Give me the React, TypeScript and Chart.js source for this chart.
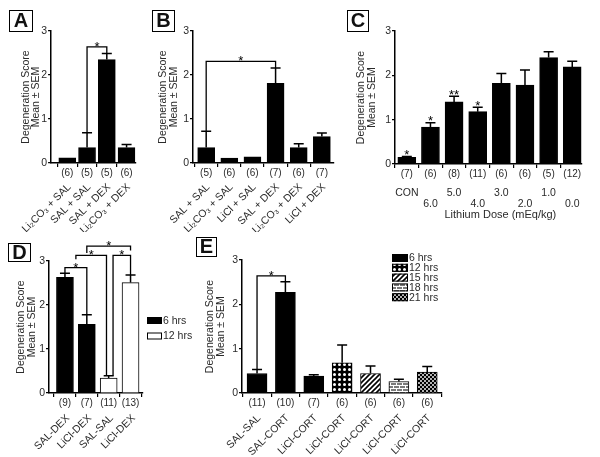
import React, { useEffect, useRef } from 'react';
import { Chart, registerables } from 'chart.js';

Chart.register(...registerables);

const FONT = '"Liberation Sans", Arial, Helvetica, sans-serif';
const INK = '#2a2a2a';
Chart.defaults.font.family = FONT;

// ---------- Panel A ----------
const catsA = ['Li₂CO₃ + SAL', 'SAL + SAL', 'SAL + DEX', 'Li₂CO₃ + DEX'];
const meanA = [0.12, 0.35, 2.35, 0.35];
const semA = [0, 0.34, 0.14, 0.07];
const nA = ['(6)', '(5)', '(5)', '(6)'];

// ---------- Panel B ----------
const catsB = ['SAL + SAL', 'Li₂CO₃ + SAL', 'LiCl + SAL', 'SAL + DEX', 'Li₂CO₃ + DEX', 'LiCl + DEX'];
const meanB = [0.35, 0.11, 0.14, 1.81, 0.35, 0.6];
const semB = [0.37, 0, 0, 0.35, 0.09, 0.08];
const nB = ['(5)', '(6)', '(6)', '(7)', '(6)', '(7)'];

// ---------- Panel C ----------
const doseC = ['CON', '6.0', '5.0', '4.0', '3.0', '2.0', '1.0', '0.0'];
const meanC = [0.15, 0.83, 1.4, 1.18, 1.82, 1.78, 2.4, 2.19];
const semC = [0.02, 0.1, 0.13, 0.1, 0.22, 0.34, 0.13, 0.13];
const nC = ['(7)', '(6)', '(8)', '(11)', '(6)', '(6)', '(5)', '(12)'];
const sigC = ['*', '*', '**', '*', '', '', '', ''];

// ---------- Panel D ----------
const catsD = ['SAL-DEX', 'LiCl-DEX', 'SAL-SAL', 'LiCl-DEX'];
const meanD = [2.63, 1.56, 0.34, 2.51];
const semD = [0.09, 0.22, 0.05, 0.17];
const nD = ['(9)', '(7)', '(11)', '(13)'];
const timeD = ['6 hrs', '6 hrs', '12 hrs', '12 hrs'];
const legendD = ['6 hrs', '12 hrs'];

// ---------- Panel E ----------
const catsE = ['SAL-SAL', 'SAL-CORT', 'LiCl-CORT', 'LiCl-CORT', 'LiCl-CORT', 'LiCl-CORT', 'LiCl-CORT'];
const meanE = [0.44, 2.27, 0.38, 0.68, 0.44, 0.26, 0.47];
const semE = [0.09, 0.24, 0.03, 0.4, 0.17, 0.05, 0.13];
const nE = ['(11)', '(10)', '(7)', '(6)', '(6)', '(6)', '(6)'];
const timeE = ['6 hrs', '6 hrs', '6 hrs', '12 hrs', '15 hrs', '18 hrs', '21 hrs'];
const legendE = ['6 hrs', '12 hrs', '15 hrs', '18 hrs', '21 hrs'];

// significance brackets: [from bar, to bar, height, left leg end, right leg end, mark]
type Bracket = [number, number, number, number, number, string];
const bracketsA: Bracket[] = [[2, 3, 2.64, 0.69, 2.49, '*']];
const bracketsB: Bracket[] = [[1, 4, 2.31, 0.72, 2.16, '*']];
const bracketsD: Bracket[] = [
  [1, 2, 2.85, 2.72, 1.78, '*'],
  [1.5, 2.9, 3.13, 3.04, 0.39, '*'],
  [3.2, 4, 3.13, 0.39, 2.68, '*'],
  [2, 4, 3.34, 3.18, 3.24, '*'],
];
const bracketsE: Bracket[] = [[1, 2, 2.64, 0.53, 2.51, '*']];

// fill styles per group
const styleD: Record<string, string> = { '6 hrs': 'solid', '12 hrs': 'open' };
const styleE: Record<string, string> = {
  '6 hrs': 'solid',
  '12 hrs': 'dots',
  '15 hrs': 'diag',
  '18 hrs': 'brick',
  '21 hrs': 'dots2',
};

function makeFill(kind: string): any {
  if (kind === 'solid') return '#000';
  if (kind === 'open') return '#fff';
  const c = document.createElement('canvas');
  const g = c.getContext('2d')!;
  if (kind === 'dots') {
    c.width = 5; c.height = 5;
    g.fillStyle = '#000'; g.fillRect(0, 0, 5, 5);
    g.fillStyle = '#fff'; g.beginPath(); g.arc(2.5, 2.5, 1.5, 0, Math.PI * 2); g.fill();
  } else if (kind === 'dots2') {
    c.width = 4; c.height = 4;
    g.fillStyle = '#000'; g.fillRect(0, 0, 4, 4);
    g.fillStyle = '#fff';
    g.beginPath(); g.arc(1, 1, 0.95, 0, Math.PI * 2); g.fill();
    g.beginPath(); g.arc(3, 3, 0.95, 0, Math.PI * 2); g.fill();
  } else if (kind === 'diag') {
    c.width = 5; c.height = 5;
    g.fillStyle = '#fff'; g.fillRect(0, 0, 5, 5);
    g.strokeStyle = '#000'; g.lineWidth = 1.6;
    g.beginPath();
    g.moveTo(-1, 6); g.lineTo(6, -1);
    g.moveTo(-1, 1); g.lineTo(1, -1);
    g.moveTo(4, 6); g.lineTo(6, 4);
    g.stroke();
  } else if (kind === 'brick') {
    c.width = 6; c.height = 6;
    g.fillStyle = '#7a7a7a'; g.fillRect(0, 0, 6, 6);
    g.fillStyle = '#fff';
    g.fillRect(0, 0, 6, 1); g.fillRect(0, 3, 6, 1);
    g.fillRect(0, 1, 1, 2); g.fillRect(3, 4, 1, 2);
  }
  return g.createPattern(c, 'repeat');
}

interface LegendSpec {
  labels: string[];
  kinds: string[];
  x: number; y: number; step: number; w: number; h: number; font: number;
}

interface PanelSpec {
  letter: string;
  letterBox: [number, number, number, number];
  box: [number, number, number, number];
  area: [number, number, number, number];
  xRange: [number, number];
  barWidth: number;
  tickLabels: (string | string[])[];
  rotation: number;
  tickPad: number;
  tickShift: number;
  tickLineHeight: number;
  means: number[];
  sems: number[];
  ns: string[];
  kinds: string[];
  brackets: Bracket[];
  marks?: string[];
  titlePad: number;
  xTitle?: string;
  xTitleShift?: number;
  xTitleY?: number;
  legend?: LegendSpec;
}

const panels: PanelSpec[] = [
  {
    letter: 'A', letterBox: [9, 10, 24, 22],
    box: [0, 0, 150, 232], area: [49, 143, 31, 163], xRange: [0.18, 4.45], barWidth: 17,
    tickLabels: catsA, rotation: 45, tickPad: 14, tickShift: 2, tickLineHeight: 1.2,
    means: meanA, sems: semA, ns: nA, kinds: catsA.map(() => 'solid'),
    brackets: bracketsA, titlePad: 18.5,
  },
  {
    letter: 'B', letterBox: [152, 10, 23, 22],
    box: [150, 0, 195, 232], area: [43, 192, 31, 163], xRange: [0.43, 6.49], barWidth: 17,
    tickLabels: catsB, rotation: 45, tickPad: 14, tickShift: 2, tickLineHeight: 1.2,
    means: meanB, sems: semB, ns: nB, kinds: catsB.map(() => 'solid'),
    brackets: bracketsB, titlePad: 8,
  },
  {
    letter: 'C', letterBox: [347, 10, 22, 22],
    box: [345, 0, 255, 232], area: [50, 246, 31, 164], xRange: [0.5, 8.4], barWidth: 18,
    tickLabels: doseC.map((d, i) => (i % 2 === 0 ? [d] : ['', d])), rotation: 0, tickPad: 20, tickShift: 0, tickLineHeight: 1.0,
    means: meanC, sems: semC, ns: nC, kinds: doseC.map(() => 'solid'),
    brackets: [], marks: sigC, titlePad: 11,
    xTitle: 'Lithium Dose (mEq/kg)', xTitleShift: 12, xTitleY: 215,
  },
  {
    letter: 'D', letterBox: [8, 243, 23, 19],
    box: [0, 232, 192, 225], area: [49, 143, 29, 161], xRange: [0.27, 4.57], barWidth: 17,
    tickLabels: catsD, rotation: 45, tickPad: 15, tickShift: 3, tickLineHeight: 1.2,
    means: meanD, sems: semD, ns: nD, kinds: timeD.map((t) => styleD[t]),
    brackets: bracketsD, titlePad: 16,
    legend: { labels: legendD, kinds: legendD.map((t) => styleD[t]), x: 147, y: 88.5, step: 15.5, w: 15, h: 7, font: 10.5 },
  },
  {
    letter: 'E', letterBox: [196, 237, 21, 20],
    box: [192, 232, 408, 225], area: [50, 250, 28, 161], xRange: [0.47, 7.52], barWidth: 20,
    tickLabels: catsE, rotation: 45, tickPad: 15, tickShift: 2, tickLineHeight: 1.2,
    means: meanE, sems: semE, ns: nE, kinds: timeE.map((t) => styleE[t]),
    brackets: bracketsE, titlePad: 13,
    legend: { labels: legendE, kinds: legendE.map((t) => styleE[t]), x: 200, y: 26, step: 9.8, w: 16, h: 8, font: 10.5 },
  },
];

function buildChart(canvas: HTMLCanvasElement, p: PanelSpec) {
  const [, , W, H] = p.box;
  const [ax0, ax1, ay0, ay1] = p.area;
  const fills = p.kinds.map(makeFill);

  const extras = {
    id: 'extras',
    afterDatasetsDraw(chart: any) {
      const ctx: CanvasRenderingContext2D = chart.ctx;
      const xs = chart.scales.x;
      const ys = chart.scales.y;
      ctx.save();
      ctx.strokeStyle = '#000';
      ctx.lineWidth = 1.5;
      const cap = 5;
      // error bars (upper)
      p.means.forEach((m, i) => {
        const s = p.sems[i];
        if (!(s > 0)) return;
        const x = xs.getPixelForValue(i + 1);
        const yT = ys.getPixelForValue(m);
        const yC = ys.getPixelForValue(m + s);
        ctx.beginPath();
        ctx.moveTo(x, yT);
        ctx.lineTo(x, yC);
        ctx.moveTo(x - cap, yC);
        ctx.lineTo(x + cap, yC);
        ctx.stroke();
      });
      // n labels
      ctx.fillStyle = INK;
      ctx.font = `10px ${FONT}`;
      ctx.textAlign = 'center';
      ctx.textBaseline = 'middle';
      p.ns.forEach((n, i) => {
        ctx.fillText(n, xs.getPixelForValue(i + 1), ys.bottom + 10);
      });
      // per-bar significance marks
      ctx.font = `13px ${FONT}`;
      ctx.textBaseline = 'alphabetic';
      ctx.fillStyle = '#000';
      (p.marks || []).forEach((mk, i) => {
        if (!mk) return;
        const x = xs.getPixelForValue(i + 1);
        const y = ys.getPixelForValue(p.means[i] + p.sems[i]);
        ctx.fillText(mk, x, y + 2.5);
      });
      // brackets
      ctx.lineWidth = 1.3;
      p.brackets.forEach(([a, b, h, la, lb, mk]) => {
        const xa = xs.getPixelForValue(a);
        const xb = xs.getPixelForValue(b);
        const yh = ys.getPixelForValue(h);
        ctx.beginPath();
        ctx.moveTo(xa, ys.getPixelForValue(la));
        ctx.lineTo(xa, yh);
        ctx.lineTo(xb, yh);
        ctx.lineTo(xb, ys.getPixelForValue(lb));
        ctx.stroke();
        ctx.fillText(mk, (xa + xb) / 2, yh + 4);
      });
      // x title
      if (p.xTitle) {
        ctx.fillStyle = INK;
        ctx.font = `11px ${FONT}`;
        ctx.textBaseline = 'middle';
        ctx.textAlign = 'center';
        ctx.fillText(p.xTitle, (xs.left + xs.right) / 2 + (p.xTitleShift || 0), (p.xTitleY || 0) - p.box[1]);
      }
      // legend
      if (p.legend) {
        const L = p.legend;
        const lf = L.kinds.map(makeFill);
        ctx.font = `${L.font}px ${FONT}`;
        ctx.textAlign = 'left';
        ctx.textBaseline = 'middle';
        L.labels.forEach((lab, i) => {
          const cy = L.y + i * L.step;
          ctx.fillStyle = lf[i];
          ctx.fillRect(L.x, cy - L.h / 2, L.w, L.h);
          ctx.lineWidth = 1;
          ctx.strokeStyle = '#000';
          ctx.strokeRect(L.x + 0.5, cy - L.h / 2 + 0.5, L.w - 1, L.h - 1);
          ctx.fillStyle = INK;
          ctx.fillText(lab, L.x + L.w + 1, cy + 0.5);
        });
      }
      ctx.restore();
    },
  };

  return new Chart(canvas, {
    type: 'bar',
    data: {
      datasets: [
        {
          data: p.means.map((m, i) => ({ x: i + 1, y: m })),
          backgroundColor: fills,
          borderColor: '#000',
          borderWidth: 1,
          barThickness: p.barWidth,
        } as any,
      ],
    },
    options: {
      responsive: false,
      animation: false,
      devicePixelRatio: 1,
      layout: { padding: { left: 0, top: ay0, right: W - ax1, bottom: 0 } },
      plugins: { legend: { display: false }, tooltip: { enabled: false } },
      scales: {
        x: {
          type: 'linear',
          bounds: 'data',
          min: p.xRange[0],
          max: p.xRange[1],
          offset: false,
          grid: { display: true, drawOnChartArea: false, drawTicks: true, tickLength: 4, color: '#000', lineWidth: 1.2 },
          border: { display: true, color: '#000', width: 1.5 },
          afterBuildTicks: (s: any) => {
            s.ticks = p.tickLabels.map((_, i) => ({ value: i + 1 }));
          },
          afterFit: (s: any) => {
            s.height = H - ay1;
          },
          ticks: {
            autoSkip: false,
            minRotation: p.rotation,
            maxRotation: p.rotation,
            padding: p.tickPad,
            labelOffset: p.tickShift,
            color: INK,
            font: { size: 10.5, family: FONT, lineHeight: p.tickLineHeight },
            callback: (_v: any, i: number) => p.tickLabels[i],
          },
        },
        y: {
          min: 0,
          max: 3,
          ticks: { stepSize: 1, padding: 1, color: INK, font: { size: 10.5, family: FONT } },
          grid: { display: true, drawOnChartArea: false, drawTicks: true, tickLength: 3, color: '#000', lineWidth: 1.2 },
          border: { display: true, color: '#000', width: 1.5 },
          afterFit: (s: any) => {
            s.width = ax0;
          },
          title: {
            display: true,
            text: ['Degeneration Score', 'Mean ± SEM'],
            color: INK,
            font: { size: 10.5, family: FONT, lineHeight: 1 },
            padding: { top: p.titlePad, bottom: 0 },
          },
        },
      },
    } as any,
    plugins: [extras],
  });
}

function Panel({ spec }: { spec: PanelSpec }) {
  const ref = useRef<HTMLCanvasElement>(null);
  useEffect(() => {
    const chart = buildChart(ref.current!, spec);
    return () => chart.destroy();
  }, [spec]);
  const [l, t, w, h] = spec.box;
  const [bl, bt, bw, bh] = spec.letterBox;
  return (
    <>
      <canvas
        ref={ref}
        width={w}
        height={h}
        style={{ position: 'absolute', left: l, top: t, width: w, height: h }}
      />
      <div
        style={{
          position: 'absolute',
          left: bl,
          top: bt,
          width: bw,
          height: bh,
          boxSizing: 'border-box',
          border: '1.5px solid #000',
          fontFamily: FONT,
          fontWeight: 'bold',
          fontSize: 20,
          lineHeight: `${bh - 3}px`,
          textAlign: 'center',
          color: '#111',
          background: '#fff',
        }}
      >
        {spec.letter}
      </div>
    </>
  );
}

export default function App() {
  return (
    <div
      style={{
        position: 'absolute',
        left: 0,
        top: 0,
        width: 600,
        height: 457,
        background: '#fff',
        overflow: 'hidden',
      }}
    >
      {panels.map((p) => (
        <Panel key={p.letter} spec={p} />
      ))}
    </div>
  );
}
